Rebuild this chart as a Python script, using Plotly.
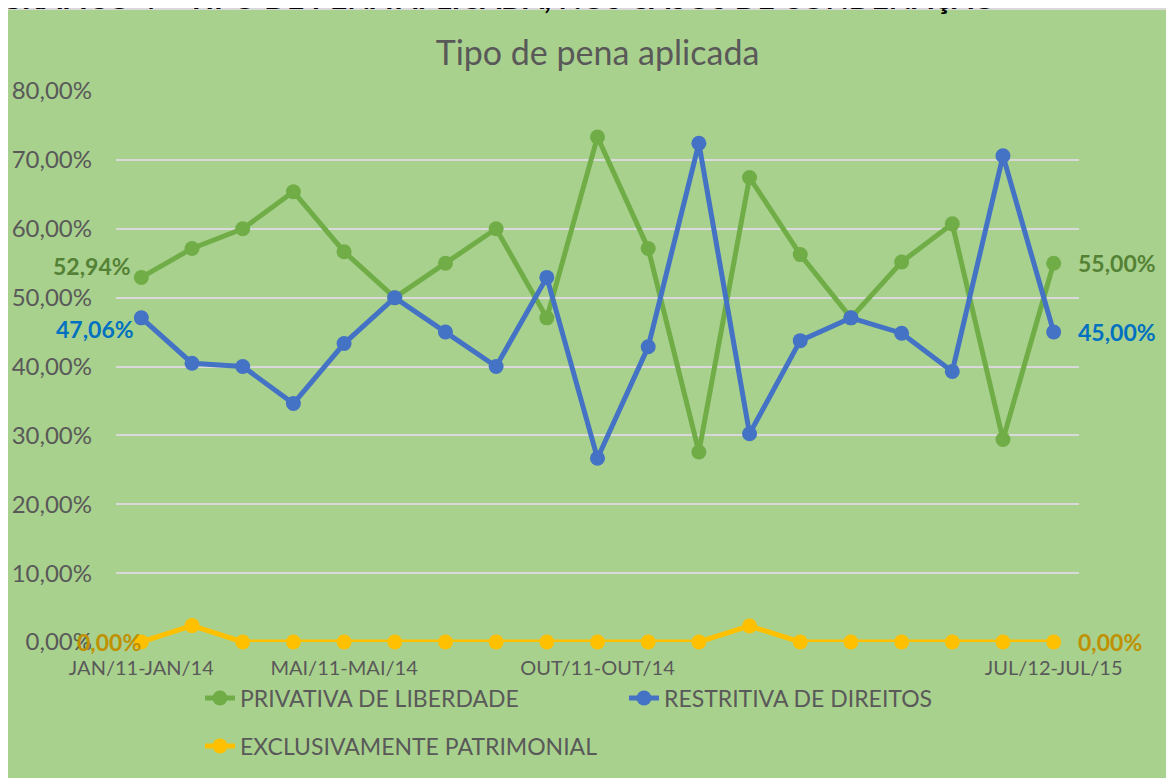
import plotly.graph_objects as go

categories = [
    "JAN/11-JAN/14", "FEV/11-FEV/14", "MAR/11-MAR/14", "ABR/11-ABR/14",
    "MAI/11-MAI/14", "JUN/11-JUN/14", "JUL/11-JUL/14", "AGO/11-AGO/14",
    "SET/11-SET/14", "OUT/11-OUT/14", "NOV/11-NOV/14", "DEZ/11-DEZ/14",
    "JAN/12-JAN/15", "FEV/12-FEV/15", "MAR/12-MAR/15", "ABR/12-ABR/15",
    "MAI/12-MAI/15", "JUN/12-JUN/15", "JUL/12-JUL/15",
]
privativa = [52.94, 57.14, 60.00, 65.38, 56.67, 50.00, 55.00, 60.00, 47.06, 73.33,
             57.14, 27.59, 67.44, 56.25, 47.06, 55.17, 60.71, 29.41, 55.00]
restritiva = [47.06, 40.48, 40.00, 34.62, 43.33, 50.00, 45.00, 40.00, 52.94, 26.67,
              42.86, 72.41, 30.23, 43.75, 47.06, 44.83, 39.29, 70.59, 45.00]
patrimonial = [0.00, 2.38, 0.00, 0.00, 0.00, 0.00, 0.00, 0.00, 0.00, 0.00,
               0.00, 0.00, 2.33, 0.00, 0.00, 0.00, 0.00, 0.00, 0.00]
series_names = ["PRIVATIVA DE LIBERDADE", "RESTRITIVA DE DIREITOS", "EXCLUSIVAMENTE PATRIMONIAL"]
shown_ticks = ["JAN/11-JAN/14", "MAI/11-MAI/14", "OUT/11-OUT/14", "JUL/12-JUL/15"]
y_ticks = [0, 10, 20, 30, 40, 50, 60, 70, 80]

line_colors = ["#70ad47", "#4472c4", "#ffc000"]
label_colors = ["#548235", "#0070c0", "#bf9000"]
FONT = "Lato"
GRAY = "#595959"
PANEL = "#a9d18e"


def pct(v):
    return f"{v:.2f}%".replace(".", ",")


fig = go.Figure()
all_series = [privativa, restritiva, patrimonial]
legend_ids = ["legend", "legend", "legend2"]
for vals, name, col, lg in zip(all_series, series_names, line_colors, legend_ids):
    fig.add_trace(go.Scatter(
        x=categories, y=vals, name=name, mode="lines+markers",
        line=dict(color=col, width=5),
        marker=dict(color=col, size=15),
        cliponaxis=False, legend=lg,
    ))

# data labels on first and last points
left_yshift = [11, -11, 0]
left_xshift = [-8, -5, 2]
for vals, lc, ys, xs in zip(all_series, label_colors, left_yshift, left_xshift):
    fig.add_annotation(x=categories[0], y=vals[0], text=pct(vals[0]), showarrow=False,
                       xanchor="right", xshift=xs, yshift=ys,
                       font=dict(family=FONT, size=23, color=lc, weight="bold"))
    fig.add_annotation(x=categories[-1], y=vals[-1], text=pct(vals[-1]), showarrow=False,
                       xanchor="left", xshift=22, yshift=0,
                       font=dict(family=FONT, size=23, color=lc, weight="bold"))

# header text (partially cut off at top of page)
fig.add_annotation(xref="paper", yref="paper", x=-0.123, y=1.135, xanchor="left", yanchor="bottom",
                   text="GRÁFICO 4 – TIPO DE PENA APLICADA, NOS CASOS DE CONDENAÇÃO",
                   showarrow=False, font=dict(family=FONT, size=30, color="black", weight="bold"))

# green chart panel with light border on left and top
fig.add_shape(type="rect", xref="paper", yref="paper", x0=-0.1132, x1=1.1, y0=-0.248, y1=1.1488,
              fillcolor=PANEL, line=dict(width=0), layer="below")
fig.add_shape(type="line", xref="paper", yref="paper", x0=-0.1132, x1=-0.1132, y0=-0.248, y1=1.1488,
              line=dict(color="#d9d9d9", width=2), layer="below")
fig.add_shape(type="line", xref="paper", yref="paper", x0=-0.1132, x1=1.1, y0=1.1488, y1=1.1488,
              line=dict(color="#d9d9d9", width=2), layer="below")

fig.update_layout(
    width=1166, height=770,
    margin=dict(l=108, r=95, t=83, b=136, autoexpand=False),
    paper_bgcolor="white", plot_bgcolor="rgba(0,0,0,0)",
    font=dict(family=FONT, color=GRAY),
    title=dict(text="Tipo de pena aplicada", x=0.5, xref="paper", y=1.0, yref="paper",
               yanchor="bottom", pad=dict(b=26),
               font=dict(family=FONT, size=34, color=GRAY)),
    xaxis=dict(type="category", range=[-0.5, 18.5], tickvals=shown_ticks, ticktext=shown_ticks,
               showgrid=False, zeroline=False, showline=False, ticks="", ticklabelstandoff=12,
               automargin=False, tickfont=dict(family=FONT, size=20, color=GRAY)),
    yaxis=dict(range=[0, 80], tickvals=y_ticks, ticktext=[pct(v) for v in y_ticks],
               showgrid=True, gridcolor="#d9d9d9", gridwidth=2, zeroline=False,
               showline=False, ticks="", ticklabelstandoff=23, automargin=False,
               tickfont=dict(family=FONT, size=24, color=GRAY)),
    legend=dict(orientation="h", x=0.0872, xref="paper", y=-0.1016, yanchor="middle",
                bgcolor="rgba(0,0,0,0)", font=dict(family=FONT, size=23, color=GRAY),
                entrywidth=379, itemwidth=30),
    legend2=dict(orientation="h", x=0.0872, xref="paper", y=-0.1887, yanchor="middle",
                 bgcolor="rgba(0,0,0,0)", font=dict(family=FONT, size=23, color=GRAY),
                 itemwidth=30),
    showlegend=True,
)

fig.write_html("out.html")
